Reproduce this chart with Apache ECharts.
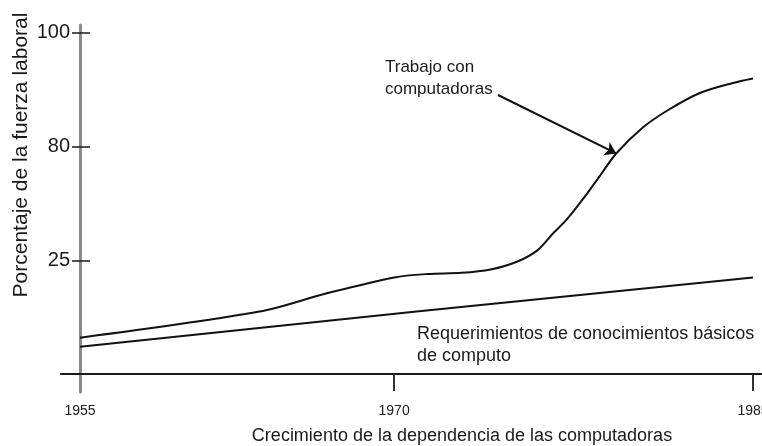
<!DOCTYPE html>
<html>
<head>
<meta charset="utf-8">
<script src="https://cdn.jsdelivr.net/npm/echarts@6/dist/echarts.min.js"></script>
<style>
  html, body { margin: 0; padding: 0; background: #fff; }
  #chart { width: 762px; height: 446px; }
</style>
</head>
<body>
<div id="chart"></div>
<script>
// x: años; y: nivel del eje (1 = 25, 2 = 80, 3 = 100), el eje no es lineal en %
const trabajoYears = [1955, 1963, 1966, 1969, 1970.5, 1972, 1973.3, 1974.5, 1975.4, 1976.1, 1976.7, 1977.5, 1978.2, 1978.9, 1980.1, 1981.2, 1982.6, 1984.1, 1985];
const trabajoLevels = [0.32, 0.55, 0.71, 0.85, 0.88, 0.89, 0.92, 0.99, 1.09, 1.24, 1.36, 1.56, 1.75, 1.94, 2.17, 2.32, 2.47, 2.56, 2.6];
const basicoYears = [1955, 1970, 1985];
const basicoLevels = [0.24, 0.55, 0.85];

const yTickValues = [1, 2, 3];
const yTickLabels = ['25', '80', '100'];
const xTickValues = [1955, 1969, 1985];
const xTickLabels = ['1955', '1970', '1985'];

// punta de la flecha sobre la curva
const arrowTarget = [1978.9, 1.94];

const font = '"Liberation Sans", Arial, sans-serif';
const ink = '#1a1a1a';

const chart = echarts.init(document.getElementById('chart'));

const toPairs = (xs, ys) => xs.map((x, i) => [x, ys[i]]);

const yAxisBase = {
    type: 'value',
    position: 'left',
    offset: -19,
    min: -0.158,
    max: 3.07,
    splitLine: { show: false },
};

const option = {
    backgroundColor: '#fff',
    animation: false,
    grid: { left: 61, right: 0, top: 25, bottom: 54, containLabel: false, outerBoundsMode: 'none' },
    xAxis: {
        type: 'value',
        min: 1954.15,
        max: 1985.4,
        splitLine: { show: false },
        axisLine: { onZero: true, lineStyle: { color: ink, width: 2 } },
        axisTick: {
            customValues: xTickValues.slice(1),
            length: 17,
            lineStyle: { color: '#333', width: 2 },
        },
        axisLabel: {
            customValues: xTickValues,
            margin: 12,
            color: ink,
            fontFamily: font,
            fontSize: 14,
            formatter: (v) => xTickLabels[xTickValues.indexOf(v)],
        },
    },
    yAxis: [
        {
            ...yAxisBase,
            axisLine: { show: true, onZero: false, lineStyle: { color: '#8a8a8a', width: 3 } },
            axisTick: {
                customValues: yTickValues,
                length: 8,
                lineStyle: { color: ink, width: 1.5 },
            },
            axisLabel: {
                customValues: yTickValues,
                margin: 10,
                color: ink,
                fontFamily: font,
                fontSize: 20,
                formatter: (v) => yTickLabels[yTickValues.indexOf(v)],
            },
        },
        {
            // ticks hacia dentro, para que crucen el eje
            ...yAxisBase,
            axisLine: { show: false, onZero: false },
            axisTick: {
                customValues: yTickValues,
                inside: true,
                length: 10,
                lineStyle: { color: ink, width: 1.5 },
            },
            axisLabel: { show: false },
        },
    ],
    series: [
        {
            name: 'Trabajo con computadoras',
            type: 'line',
            data: toPairs(trabajoYears, trabajoLevels),
            smooth: 0.3,
            showSymbol: false,
            lineStyle: { color: '#111', width: 2 },
            markLine: {
                silent: true,
                symbol: ['none', 'arrow'],
                symbolSize: 11,
                label: { show: false },
                lineStyle: { color: '#111', width: 2, type: 'solid' },
                data: [[{ x: 498, y: 95 }, { coord: arrowTarget }]],
            },
        },
        {
            name: 'Requerimientos de conocimientos básicos de computo',
            type: 'line',
            data: toPairs(basicoYears, basicoLevels),
            showSymbol: false,
            lineStyle: { color: '#111', width: 2 },
        },
    ],
    graphic: [
        {
            type: 'text',
            x: 21,
            y: 155,
            rotation: Math.PI / 2,
            style: {
                text: 'Porcentaje de la fuerza laboral',
                fill: ink,
                font: '21px ' + font,
                align: 'center',
                verticalAlign: 'middle',
            },
        },
        {
            type: 'text',
            x: 462,
            y: 436,
            style: {
                text: 'Crecimiento de la dependencia de las computadoras',
                fill: ink,
                font: '18px ' + font,
                align: 'center',
                verticalAlign: 'middle',
            },
        },
        {
            type: 'text',
            x: 385,
            y: 56,
            style: {
                text: 'Trabajo con\ncomputadoras',
                fill: ink,
                font: '17px ' + font,
                lineHeight: 22,
                align: 'left',
                verticalAlign: 'top',
            },
        },
        {
            type: 'text',
            x: 417,
            y: 323,
            style: {
                text: 'Requerimientos de conocimientos básicos\nde computo',
                fill: ink,
                font: '18px ' + font,
                lineHeight: 22,
                align: 'left',
                verticalAlign: 'top',
            },
        },
    ],
};

chart.setOption(option);
</script>
</body>
</html>
